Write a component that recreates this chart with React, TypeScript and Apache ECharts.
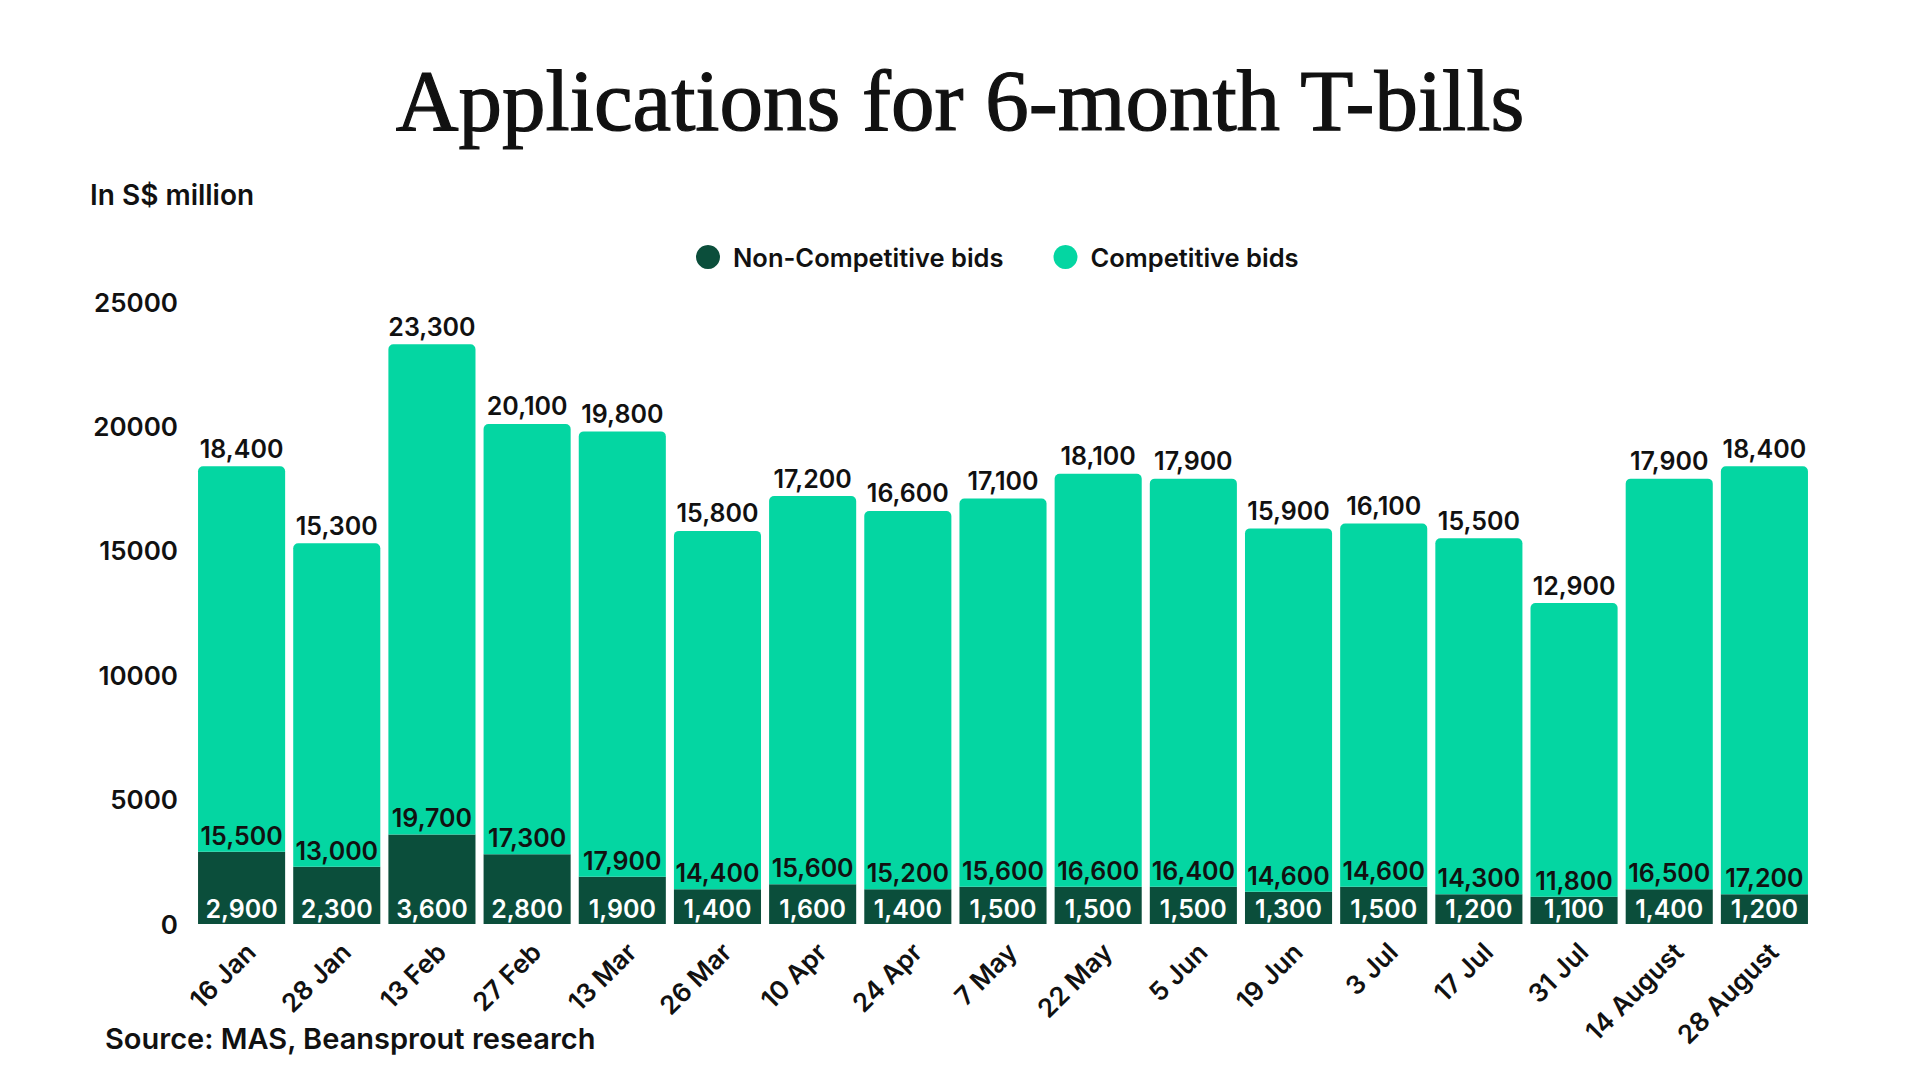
import { useEffect, useRef } from 'react'
import * as echarts from 'echarts'

const dates = [
  '16 Jan', '28 Jan', '13 Feb', '27 Feb', '13 Mar', '26 Mar', '10 Apr', '24 Apr', '7 May',
  '22 May', '5 Jun', '19 Jun', '3 Jul', '17 Jul', '31 Jul', '14 August', '28 August',
]
const nonCompetitive = [2900, 2300, 3600, 2800, 1900, 1400, 1600, 1400, 1500, 1500, 1500, 1300, 1500, 1200, 1100, 1400, 1200]
const competitive = [15500, 13000, 19700, 17300, 17900, 14400, 15600, 15200, 15600, 16600, 16400, 14600, 14600, 14300, 11800, 16500, 17200]
const totals = [18400, 15300, 23300, 20100, 19800, 15800, 17200, 16600, 17100, 18100, 17900, 15900, 16100, 15500, 12900, 17900, 18400]

const DARK = '#0B4E3B'
const MINT = '#04D6A2'
const INK = '#111111'
const SANS = 'Inter'

const fmt = (v: number) => v.toLocaleString('en-US')

export default function App() {
  const ref = useRef<HTMLDivElement>(null)

  useEffect(() => {
    if (!ref.current) return
    const chart = echarts.init(ref.current, undefined, { renderer: 'svg' })

    const label = { fontFamily: SANS, fontSize: 25, fontWeight: 600 as const }

    const option: echarts.EChartsOption = {
      animation: false,
      backgroundColor: '#ffffff',
      title: {
        text: 'Applications for 6-month T-bills',
        left: 'center',
        top: 52,
        textStyle: {
          fontFamily: 'Liberation Serif',
          fontSize: 87,
          fontWeight: 'normal',
          color: INK,
          textBorderColor: INK,
          textBorderWidth: 1.2,
        },
      },
      legend: {
        data: ['Non-Competitive bids', 'Competitive bids'],
        left: 691,
        top: 239,
        icon: 'circle',
        itemWidth: 24,
        itemHeight: 24,
        itemGap: 50,
        textStyle: { fontFamily: SANS, fontSize: 25.5, fontWeight: 600, color: INK, padding: [0, 0, 0, 8] },
      },
      graphic: [
        {
          type: 'text',
          left: 90,
          top: 181,
          style: { text: 'In S$ million', fontFamily: SANS, fontSize: 28, fontWeight: 600, fill: INK },
        },
        {
          type: 'text',
          left: 105,
          top: 1024,
          style: { text: 'Source: MAS, Beansprout research', fontFamily: SANS, fontSize: 29, fontWeight: 600, fill: INK },
        },
      ],
      grid: { left: 194, right: 108, top: 302, bottom: 156 },
      xAxis: {
        type: 'category',
        data: dates,
        axisLine: { show: false },
        axisTick: { show: false },
        axisLabel: {
          ...label,
          fontSize: 26,
          color: INK,
          rotate: 45,
          margin: 14,
          interval: 0,
          verticalAlign: 'top',
        },
      },
      yAxis: {
        type: 'value',
        min: 0,
        max: 25000,
        interval: 5000,
        splitLine: { show: false },
        axisLine: { show: false },
        axisTick: { show: false },
        axisLabel: { ...label, fontSize: 26, color: INK, margin: 16, formatter: (v: number) => String(v) },
      },
      series: [
        {
          name: 'Non-Competitive bids',
          type: 'bar',
          stack: 'bids',
          barCategoryGap: '8.5%',
          data: nonCompetitive,
          itemStyle: { color: DARK },
          label: {
            show: true,
            position: 'insideBottom',
            distance: 4,
            ...label,
            lineHeight: 22,
            color: '#ffffff',
            formatter: (p: any) => fmt(p.value),
          },
        },
        {
          name: 'Competitive bids',
          type: 'bar',
          stack: 'bids',
          data: competitive,
          itemStyle: { color: MINT, borderRadius: [5, 5, 0, 0] },
          label: {
            show: true,
            position: 'insideBottom',
            distance: 5,
            ...label,
            lineHeight: 22,
            color: INK,
            formatter: (p: any) => fmt(p.value),
          },
        },
        {
          name: 'Total',
          type: 'bar',
          barGap: '-100%',
          data: totals,
          z: 1,
          silent: true,
          itemStyle: { color: 'rgba(0,0,0,0)' },
          label: {
            show: true,
            position: 'top',
            distance: 5,
            ...label,
            color: INK,
            formatter: (p: any) => fmt(p.value),
          },
        },
      ],
    }

    chart.setOption(option)
    return () => chart.dispose()
  }, [])

  return <div ref={ref} style={{ width: 1920, height: 1080, margin: -8 }} />
}
